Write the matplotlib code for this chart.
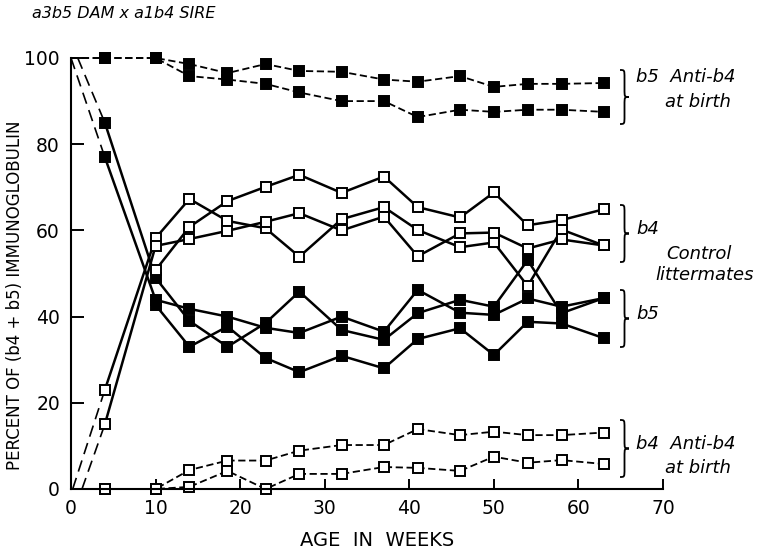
import matplotlib
matplotlib.use("Agg")
import matplotlib.pyplot as plt
from matplotlib.path import Path
from matplotlib.patches import PathPatch

# sampling ages (weeks)
weeks = [4, 10, 14, 18.5, 23, 27, 32, 37, 41, 46, 50, 54, 58, 63]

# b5 in anti-b4 treated rabbits (start at 100 at birth)
anti_b5_a = [100, 100, 100, 98.6, 96.5, 98.6, 97, 96.8, 95, 94.5, 95.8, 93.3, 94, 94, 94.2]
anti_b5_b = [100, 100, 100, 95.8, 95, 94, 92, 90, 90, 86.3, 88, 87.5, 88, 88, 87.5]
# b4 in anti-b4 treated rabbits
anti_b4_a = [0, 0, 0, 4.4, 6.6, 6.6, 8.9, 10.2, 10.2, 13.9, 12.5, 13.3, 12.5, 12.5, 13.1]
anti_b4_b = [0, 0, 0, 0.5, 4.2, 0, 3.5, 3.5, 5.1, 4.9, 4.2, 7.5, 6.1, 6.7, 5.8]

# control littermates, b4
ctrl_b4_1 = [23, 58.2, 67.3, 62.2, 60.5, 53.9, 62.6, 65.4, 60.1, 56.1, 57.2, 47.1, 60.2, 56.5]
ctrl_b4_2 = [15, 56.4, 58, 59.9, 62, 64, 60, 63.2, 54, 59.3, 59.5, 55.8, 57.9, 56.5]
ctrl_b4_3 = [50.8, 60.8, 66.8, 70.1, 72.9, 68.7, 72.5, 65.4, 63, 68.8, 61.2, 62.4, 64.9]
# control littermates, b5
ctrl_b5_1 = [85, 49, 39, 33, 38.5, 45.8, 36.9, 34.6, 40.8, 43.9, 42.3, 53.1, 40.8, 44.3]
ctrl_b5_2 = [77, 43.9, 41.8, 40, 37.4, 36.2, 40, 36.5, 46.2, 40.9, 40.4, 44.2, 42.3, 44.3]
ctrl_b5_3 = [42.7, 33, 37.7, 30.4, 27.1, 30.9, 28, 34.8, 37.3, 31.1, 38.8, 38.4, 35]

# where the early (dashed) control curves leave the axis
ctrl_b5_start = [0.8, 0.0]
ctrl_b4_start = [0.2, 1.3]

W, H = 770, 557
fig = plt.figure(figsize=(W / 100, H / 100), dpi=100)
ax = fig.add_axes([71 / W, 68 / H, (663 - 71) / W, (489 - 58) / H])

anti_x = [0] + weeks
sq = dict(marker="s", markersize=7.4, color="black", markeredgewidth=1.4, clip_on=False)
dash = dict(linestyle=(0, (4, 2)), linewidth=1.3)

for y in [anti_b5_a, anti_b5_b]:
    ax.plot(anti_x, y, markevery=slice(1, None), markerfacecolor="black", **dash, **sq)
for y in [anti_b4_a, anti_b4_b]:
    ax.plot(anti_x, y, markevery=slice(1, None), markerfacecolor="white", **dash, **sq)

# early dashed parts of the control curves
for x0, y in zip(ctrl_b5_start, [ctrl_b5_1, ctrl_b5_2]):
    ax.plot([x0, weeks[0]], [100, y[0]], color="black", linestyle=(0, (7, 4)), linewidth=1.2)
for x0, y in zip(ctrl_b4_start, [ctrl_b4_1, ctrl_b4_2]):
    ax.plot([x0, weeks[0]], [0, y[0]], color="black", linestyle=(0, (7, 4)), linewidth=1.2)

for y in [ctrl_b5_1, ctrl_b5_2]:
    ax.plot(weeks, y, linewidth=1.8, markerfacecolor="black", **sq)
ax.plot(weeks[1:], ctrl_b5_3, linewidth=1.8, markerfacecolor="black", **sq)
for y in [ctrl_b4_1, ctrl_b4_2]:
    ax.plot(weeks, y, linewidth=1.8, markerfacecolor="white", zorder=3, **sq)
ax.plot(weeks[1:], ctrl_b4_3, linewidth=1.8, markerfacecolor="white", zorder=3, **sq)

ax.set_xlim(0, 70)
ax.set_ylim(0, 100)
ax.set_xticks(range(0, 71, 10))
ax.set_yticks(range(0, 101, 20))
ax.spines["top"].set_visible(False)
ax.spines["right"].set_visible(False)
for s in ["left", "bottom"]:
    ax.spines[s].set_linewidth(1.5)
ax.tick_params(axis="both", direction="in", width=1.4, labelsize=13.5)
ax.tick_params(axis="x", length=7, pad=7)
ax.tick_params(axis="y", length=9, pad=8)

fig.text(15 / W, 1 - 295 / H, "PERCENT OF (b4 + b5) IMMUNOGLOBULIN", rotation=90,
         ha="center", va="center", fontsize=12)
fig.text(377 / W, 1 - 541 / H, "AGE  IN  WEEKS", ha="center", va="center", fontsize=14)
fig.text(32 / W, 1 - 14 / H, "a3b5 DAM x a1b4 SIRE", ha="left", va="center",
         fontsize=11.5, style="italic")


def brace(x0, ytop, ybot, w=9, q=8):
    # right-pointing curly brace in pixel coords (y measured from top)
    ym = (ytop + ybot) / 2
    xm = x0 + w / 2
    pts = [(x0, ytop), (xm, ytop), (xm, ytop), (xm, ytop + q),
           (xm, ym - q),
           (xm, ym), (xm, ym), (x0 + w, ym),
           (xm, ym), (xm, ym), (xm, ym + q),
           (xm, ybot - q),
           (xm, ybot), (xm, ybot), (x0, ybot)]
    codes = [Path.MOVETO, Path.CURVE4, Path.CURVE4, Path.CURVE4,
             Path.LINETO,
             Path.CURVE4, Path.CURVE4, Path.CURVE4,
             Path.CURVE4, Path.CURVE4, Path.CURVE4,
             Path.LINETO,
             Path.CURVE4, Path.CURVE4, Path.CURVE4]
    pts = [(x / W, 1 - y / H) for x, y in pts]
    fig.patches.append(PathPatch(Path(pts, codes), fill=False, linewidth=1.3,
                                 transform=fig.transFigure, figure=fig))


brace(620, 70, 124)
brace(620, 205, 262)
brace(620, 290, 347)
brace(620, 420, 477)

ts = dict(fontsize=13, style="italic", va="center", ha="left")
fig.text(636 / W, 1 - 77 / H, "b5  Anti-b4", **ts)
fig.text(665 / W, 1 - 102 / H, "at birth", **ts)
fig.text(636 / W, 1 - 229 / H, "b4", **ts)
fig.text(666 / W, 1 - 254 / H, "Control", **ts)
fig.text(655 / W, 1 - 275 / H, "littermates", **ts)
fig.text(636 / W, 1 - 314 / H, "b5", **ts)
fig.text(636 / W, 1 - 444 / H, "b4  Anti-b4", **ts)
fig.text(665 / W, 1 - 468 / H, "at birth", **ts)

fig.savefig("out.png", dpi=100)
